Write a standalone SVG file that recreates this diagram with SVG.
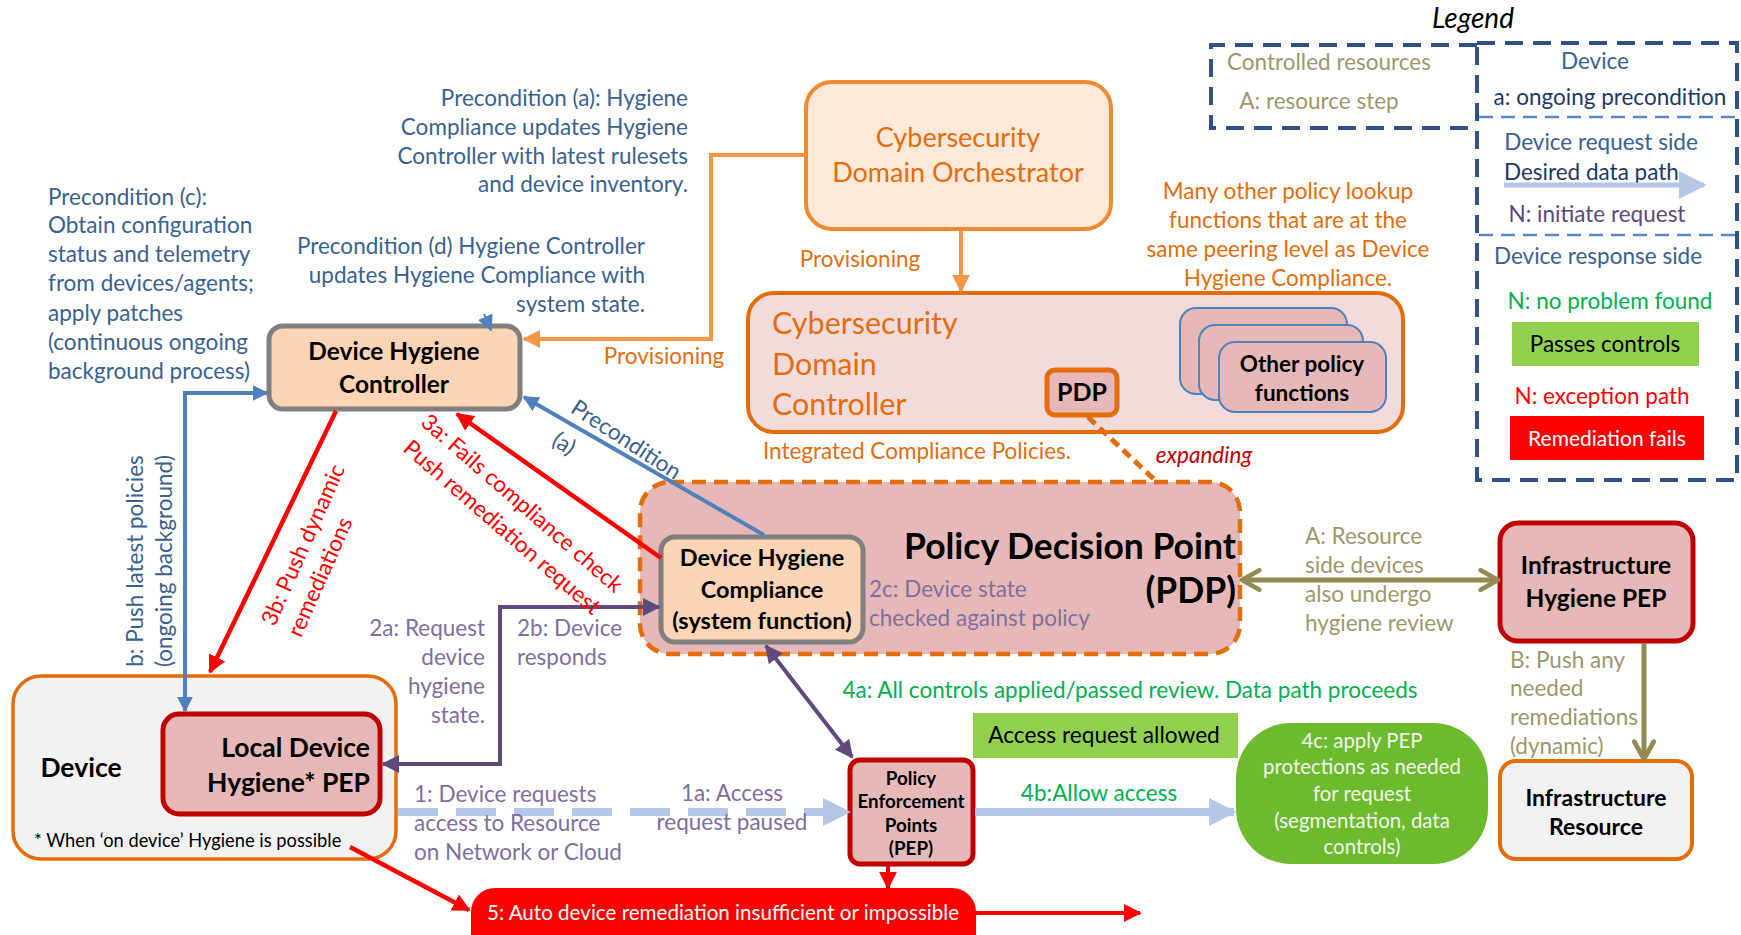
<svg xmlns="http://www.w3.org/2000/svg" width="1741" height="935" viewBox="0 0 1741 935">
<style>
text{font-family:Lato,"Open Sans","Liberation Sans",sans-serif;font-size:22.5px}
.b{font-weight:bold;fill:#000}
.c{text-anchor:middle}
.e{text-anchor:end}
.blue{fill:#3A6190}
.orange{fill:#E46C0A}
.purple{fill:#7F6F9F}
.green{fill:#00B050}
.olive{fill:#9D976B}
.red{fill:#FF0000}
.navy{fill:#1F3864}
</style>
<defs>
<marker id="mBlue" viewBox="0 0 10 10" refX="9" refY="5" markerWidth="16" markerHeight="16" markerUnits="userSpaceOnUse" orient="auto-start-reverse"><path d="M0,0 L10,5 L0,10 z" fill="#4F81BD"/></marker>
<marker id="mOrange" viewBox="0 0 10 10" refX="9" refY="5" markerWidth="18" markerHeight="18" markerUnits="userSpaceOnUse" orient="auto-start-reverse"><path d="M0,0 L10,5 L0,10 z" fill="#F79646"/></marker>
<marker id="mRed" viewBox="0 0 10 10" refX="9" refY="5" markerWidth="18" markerHeight="18" markerUnits="userSpaceOnUse" orient="auto-start-reverse"><path d="M0,0 L10,5 L0,10 z" fill="#FF0000"/></marker>
<marker id="mPurple" viewBox="0 0 10 10" refX="9" refY="5" markerWidth="18" markerHeight="18" markerUnits="userSpaceOnUse" orient="auto-start-reverse"><path d="M0,0 L10,5 L0,10 z" fill="#604A7B"/></marker>
<marker id="mData" viewBox="0 0 10 10" refX="9" refY="5" markerWidth="28" markerHeight="28" markerUnits="userSpaceOnUse" orient="auto-start-reverse"><path d="M0,0 L10,5 L0,10 z" fill="#B4C7E7"/></marker>
<marker id="mOlive" viewBox="0 0 12 12" refX="10" refY="6" markerWidth="26" markerHeight="26" markerUnits="userSpaceOnUse" orient="auto-start-reverse"><path d="M2,1.5 L10,6 L2,10.5" fill="none" stroke="#948A54" stroke-width="2.2" stroke-linecap="round" stroke-linejoin="round"/></marker>
</defs>
<rect width="1741" height="935" fill="#fff"/>

<g id="legend">
<text x="1473" y="28" class="c" style="font-style:italic;font-size:28px">Legend</text>
<path d="M1477,45 L1211,45 L1211,128 L1477,128" fill="none" stroke="#2F5188" stroke-width="4" stroke-dasharray="18 10"/>
<rect x="1477" y="43" width="260" height="437" fill="none" stroke="#2F5188" stroke-width="4" stroke-dasharray="18 10"/>
<line x1="1479" y1="117" x2="1737" y2="117" stroke="#5B87C5" stroke-width="2.5" stroke-dasharray="14 8"/>
<line x1="1479" y1="235" x2="1737" y2="235" stroke="#5B87C5" stroke-width="2.5" stroke-dasharray="14 8"/>
<text x="1329" y="70" class="c olive">Controlled resources</text>
<text x="1319" y="109" class="c olive">A: resource step</text>
<text x="1595" y="69" class="c blue">Device</text>
<text x="1610" y="105" class="c navy">a: ongoing precondition</text>
<text x="1601" y="150" class="c blue">Device request side</text>
<text x="1504" y="180" class="navy">Desired data path</text>
<line x1="1504" y1="185" x2="1704" y2="185" stroke="#B4C7E7" stroke-width="5" marker-end="url(#mData)"/>
<text x="1597" y="222" class="c" fill="#5F497A">N: initiate request</text>
<text x="1598" y="264" class="c blue">Device response side</text>
<text x="1610" y="309" class="c green">N: no problem found</text>
<rect x="1512" y="322" width="187" height="44" fill="#92D050"/>
<text x="1605" y="352" class="c">Passes controls</text>
<text x="1602" y="404" class="c red">N: exception path</text>
<rect x="1510" y="416" width="194" height="44" fill="#FF0000"/>
<text x="1607" y="446" class="c" fill="#fff" style="font-size:21px">Remediation fails</text>
</g>

<g id="notes">
<text class="e blue" x="688" y="106">Precondition (a): Hygiene</text>
<text class="e blue" x="688" y="135">Compliance updates Hygiene</text>
<text class="e blue" x="688" y="164">Controller with latest rulesets</text>
<text class="e blue" x="688" y="192">and device inventory.</text>
<text class="blue" x="48" y="205">Precondition (c):</text>
<text class="blue" x="48" y="233">Obtain configuration</text>
<text class="blue" x="48" y="262">status and telemetry</text>
<text class="blue" x="48" y="291">from devices/agents;</text>
<text class="blue" x="48" y="321">apply patches</text>
<text class="blue" x="48" y="350">(continuous ongoing</text>
<text class="blue" x="48" y="379">background process)</text>
<text class="e blue" x="645" y="254">Precondition (d) Hygiene Controller</text>
<text class="e blue" x="645" y="283">updates Hygiene Compliance with</text>
<text class="e blue" x="645" y="312">system state.</text>
<text class="c orange" x="1288" y="199">Many other policy lookup</text>
<text class="c orange" x="1288" y="228">functions that are at the</text>
<text class="c orange" x="1288" y="257">same peering level as Device</text>
<text class="c orange" x="1288" y="286">Hygiene Compliance.</text>
<text class="c orange" x="917" y="459">Integrated Compliance Policies.</text>
</g>

<g id="orchestrator">
<rect x="806" y="82" width="305" height="147" rx="26" fill="#FDE9D9" stroke="#F08A30" stroke-width="4"/>
<text class="c orange" x="958" y="147" style="font-size:27px">Cybersecurity</text>
<text class="c orange" x="958" y="182" style="font-size:27px">Domain Orchestrator</text>
</g>

<g id="domain-controller">
<rect x="748" y="293" width="655" height="139" rx="26" fill="#F2DCDB" stroke="#E46C0A" stroke-width="4"/>
<text class="orange" x="772" y="334" style="font-size:30.5px">Cybersecurity</text>
<text class="orange" x="772" y="375" style="font-size:30.5px">Domain</text>
<text class="orange" x="772" y="415" style="font-size:30.5px">Controller</text>
</g>

<g id="pdp-small">
<rect x="1047" y="370" width="70" height="45" rx="8" fill="#E6B9B8" stroke="#E46C0A" stroke-width="5"/>
<text class="c b" x="1082" y="401" style="font-size:25px">PDP</text>
</g>

<g id="other-policy">
<rect x="1180" y="308" width="167" height="86" rx="16" fill="#E6B9B8" stroke="#4F81BD" stroke-width="2"/>
<rect x="1199" y="325" width="164" height="75" rx="16" fill="#E6B9B8" stroke="#4F81BD" stroke-width="2"/>
<rect x="1219" y="342" width="167" height="70" rx="16" fill="#E6B9B8" stroke="#4F81BD" stroke-width="2"/>
<text class="c b" x="1302" y="372" style="font-size:22.5px">Other policy</text>
<text class="c b" x="1302" y="401" style="font-size:22.5px">functions</text>
</g>

<g id="pdp">
<rect x="640" y="482" width="600" height="172" rx="30" fill="#E6B9B8" stroke="#E46C0A" stroke-width="4.5" stroke-dasharray="14 8"/>
<text class="e b" x="1236" y="559" style="font-size:35.5px">Policy Decision Point</text>
<text class="e b" x="1236" y="603" style="font-size:35.5px">(PDP)</text>
</g>

<g id="dhc">
<rect x="661" y="537" width="202" height="105" rx="14" fill="#FBD5B5" stroke="#7F7F7F" stroke-width="5"/>
<text class="c b" x="762" y="566" style="font-size:23.5px">Device Hygiene</text>
<text class="c b" x="762" y="598" style="font-size:23.5px">Compliance</text>
<text class="c b" x="762" y="629" style="font-size:23.5px">(system function)</text>
</g>

<g id="controller">
<rect x="269" y="326" width="251" height="83" rx="14" fill="#FBD5B5" stroke="#7F7F7F" stroke-width="5"/>
<text class="c b" x="394" y="360" style="font-size:24.5px">Device Hygiene</text>
<text class="c b" x="394" y="393" style="font-size:24.5px">Controller</text>
</g>

<g id="device">
<rect x="13" y="676" width="383" height="183" rx="28" fill="#F2F2F2" stroke="#E46C0A" stroke-width="3.5"/>
<text class="c b" x="81" y="777" style="font-size:26.5px">Device</text>
<text x="34" y="847" style="font-size:18.3px">* When ‘on device’ Hygiene is possible</text>
</g>

<g id="local-pep">
<rect x="163" y="714" width="217" height="100" rx="16" fill="#E6B9B8" stroke="#C00000" stroke-width="5"/>
<text class="e b" x="370" y="757" style="font-size:26.5px">Local Device</text>
<text class="e b" x="370" y="792" style="font-size:26.5px">Hygiene* PEP</text>
</g>

<g id="pep">
<rect x="850" y="760" width="123" height="104" rx="10" fill="#E6B9B8" stroke="#C00000" stroke-width="5"/>
<text class="c b" x="911" y="785" style="font-size:18.8px">Policy</text>
<text class="c b" x="911" y="808" style="font-size:18.8px">Enforcement</text>
<text class="c b" x="911" y="832" style="font-size:18.8px">Points</text>
<text class="c b" x="911" y="855" style="font-size:18.8px">(PEP)</text>
</g>

<g id="access-allowed">
<rect x="973" y="713" width="265" height="45" fill="#92D050"/>
<text class="c" x="1104" y="743" style="font-size:22.7px">Access request allowed</text>
</g>

<g id="apply-pep">
<rect x="1236" y="723" width="252" height="141" rx="55" fill="#6CBB2D"/>
<text class="c" x="1362" y="748" fill="#F2F2F2" style="font-size:20.4px">4c: apply PEP</text>
<text class="c" x="1362" y="774" fill="#F2F2F2" style="font-size:20.4px">protections as needed</text>
<text class="c" x="1362" y="801" fill="#F2F2F2" style="font-size:20.4px">for request</text>
<text class="c" x="1362" y="828" fill="#F2F2F2" style="font-size:20.4px">(segmentation, data</text>
<text class="c" x="1362" y="854" fill="#F2F2F2" style="font-size:20.4px">controls)</text>
</g>

<g id="infra-pep">
<rect x="1500" y="523" width="193" height="118" rx="18" fill="#E6B9B8" stroke="#C00000" stroke-width="5"/>
<text class="c b" x="1596" y="574" style="font-size:24.5px">Infrastructure</text>
<text class="c b" x="1596" y="607" style="font-size:24.5px">Hygiene PEP</text>
</g>

<g id="infra-resource">
<rect x="1500" y="761" width="192" height="98" rx="16" fill="#F2F2F2" stroke="#E46C0A" stroke-width="4"/>
<text class="c b" x="1596" y="806" style="font-size:23px">Infrastructure</text>
<text class="c b" x="1596" y="835" style="font-size:23px">Resource</text>
</g>

<g id="remediation-fail">
<rect x="471" y="888" width="505" height="70" rx="24" fill="#FF0000"/>
<text class="c" x="723" y="920" fill="#fff" style="font-size:20.6px">5: Auto device remediation insufficient or impossible</text>
</g>

<g id="connectors" fill="none">
<polyline points="806,155 711,155 711,339 524,339" stroke="#F79646" stroke-width="4" marker-end="url(#mOrange)"/>
<line x1="961" y1="231" x2="961" y2="291" stroke="#F79646" stroke-width="4" marker-end="url(#mOrange)"/>
<line x1="1088" y1="417" x2="1158" y2="483" stroke="#E46C0A" stroke-width="5" stroke-dasharray="10 6"/>
<line x1="764" y1="535" x2="524" y2="397" stroke="#4F81BD" stroke-width="4" marker-end="url(#mBlue)"/>
<line x1="484" y1="314" x2="491" y2="330" stroke="#4F81BD" stroke-width="2" marker-end="url(#mBlue)"/>
<polyline points="185,711 185,393 267,393" stroke="#4F81BD" stroke-width="4" marker-start="url(#mBlue)" marker-end="url(#mBlue)"/>
<line x1="661" y1="558" x2="457" y2="414" stroke="#FF0000" stroke-width="4.5" marker-end="url(#mRed)"/>
<line x1="336" y1="411" x2="210" y2="672" stroke="#FF0000" stroke-width="4.5" marker-end="url(#mRed)"/>
<polyline points="383,764 500,764 500,607 659,607" stroke="#604A7B" stroke-width="4" marker-start="url(#mPurple)" marker-end="url(#mPurple)"/>
<line x1="766" y1="646" x2="852" y2="757" stroke="#604A7B" stroke-width="4" marker-start="url(#mPurple)" marker-end="url(#mPurple)"/>
<line x1="398" y1="812" x2="848" y2="812" stroke="#B4C7E7" stroke-width="8" stroke-dasharray="40 18" marker-end="url(#mData)"/>
<line x1="975" y1="812" x2="1234" y2="812" stroke="#B4C7E7" stroke-width="8" marker-end="url(#mData)"/>
<line x1="1242" y1="580" x2="1498" y2="580" stroke="#948A54" stroke-width="5" marker-start="url(#mOlive)" marker-end="url(#mOlive)"/>
<line x1="1644" y1="643" x2="1644" y2="759" stroke="#948A54" stroke-width="5" marker-end="url(#mOlive)"/>
<line x1="350" y1="847" x2="469" y2="910" stroke="#FF0000" stroke-width="4.5" marker-end="url(#mRed)"/>
<line x1="888" y1="866" x2="888" y2="888" stroke="#FF0000" stroke-width="4" marker-end="url(#mRed)"/>
<line x1="976" y1="913" x2="1140" y2="913" stroke="#FF0000" stroke-width="4" marker-end="url(#mRed)"/>
</g>

<g id="connector-labels">
<text class="c orange" x="664" y="364">Provisioning</text>
<text class="c orange" x="860" y="267">Provisioning</text>
<text class="blue" transform="translate(622,446) rotate(33)" text-anchor="middle">Precondition</text>
<text class="blue" transform="translate(560,450) rotate(33)" text-anchor="middle">(a)</text>
<text class="red" transform="translate(517,509) rotate(41)" text-anchor="middle">3a: Fails compliance check</text>
<text class="red" transform="translate(497,533) rotate(41)" text-anchor="middle">Push remediation request</text>
<text class="red" transform="translate(310,548) rotate(-66)" text-anchor="middle">3b: Push dynamic</text>
<text class="red" transform="translate(327,580) rotate(-66)" text-anchor="middle">remediations</text>
<text class="blue" transform="translate(143,561) rotate(-90)" text-anchor="middle">b: Push latest policies</text>
<text class="blue" transform="translate(172,561) rotate(-90)" text-anchor="middle">(ongoing background)</text>
<text class="e purple" x="485" y="636">2a: Request</text>
<text class="e purple" x="485" y="665">device</text>
<text class="e purple" x="485" y="694">hygiene</text>
<text class="e purple" x="485" y="723">state.</text>
<text class="purple" x="517" y="636">2b: Device</text>
<text class="purple" x="517" y="665">responds</text>
<text class="purple" x="869" y="597">2c: Device state</text>
<text class="purple" x="869" y="626">checked against policy</text>
<text class="purple" x="414" y="802">1: Device requests</text>
<text class="purple" x="414" y="831">access to Resource</text>
<text class="purple" x="414" y="860">on Network or Cloud</text>
<text class="c purple" x="732" y="801">1a: Access</text>
<text class="c purple" x="732" y="830">request paused</text>
<text class="c green" x="1130" y="698">4a: All controls applied/passed review.  Data path proceeds</text>
<text class="c green" x="1099" y="801">4b:Allow access</text>
<text class="olive" x="1305" y="544">A: Resource</text>
<text class="olive" x="1305" y="573">side devices</text>
<text class="olive" x="1305" y="602">also undergo</text>
<text class="olive" x="1305" y="631">hygiene review</text>
<text class="olive" x="1510" y="668">B: Push any</text>
<text class="olive" x="1510" y="696">needed</text>
<text class="olive" x="1510" y="725">remediations</text>
<text class="olive" x="1510" y="754">(dynamic)</text>
<text class="c" x="1204" y="463" style="font-style:italic" fill="#C00000">expanding</text>
</g>
</svg>
